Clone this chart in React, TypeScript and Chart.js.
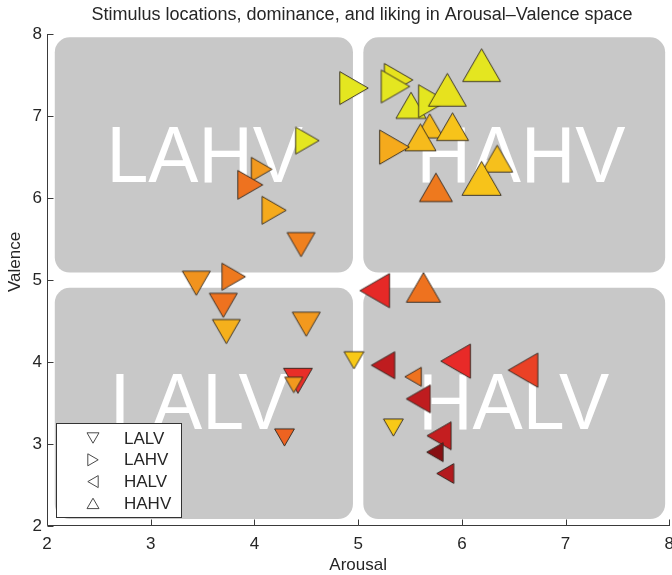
import React, { useEffect, useRef } from 'react';
import { Chart, registerables } from 'chart.js';

Chart.register(...registerables);

// ---- stimulus data (arousal / valence / dominance / liking / intended quadrant) ----
const arousal = [
  4.96, 5.39, 5.36, 5.51, 5.72, 5.86, 6.19, 5.69, 5.60, 5.91,
  5.35, 6.34, 6.19, 5.75, 4.51, 4.07, 3.96, 4.19, 4.45, 3.44,
  3.80, 3.70, 3.73, 4.50, 4.42, 4.38, 4.29, 4.96, 5.16, 5.63,
  5.24, 5.94, 6.59, 5.53, 5.58, 5.34, 5.78, 5.74, 5.84,
];
const valence = [
  7.34, 7.44, 7.36, 7.13, 7.18, 7.32, 7.62, 6.88, 6.74, 6.87,
  6.62, 6.48, 6.24, 6.13, 6.70, 6.35, 6.16, 5.85, 5.43, 4.96,
  5.04, 4.69, 4.37, 4.46, 3.77, 3.72, 3.08, 4.02, 4.87, 4.91,
  3.96, 4.01, 3.90, 3.82, 3.55, 3.20, 3.10, 2.90, 2.64,
];
const dominance = [
  7.3, 7.3, 7.3, 6.7, 7.3, 8.4, 8.4, 6.2, 6.9, 7.1,
  7.6, 6.9, 8.7, 7.3, 6.0, 5.3, 6.4, 6.2, 6.2, 6.2,
  6.0, 6.2, 6.2, 6.2, 6.4, 4.0, 4.4, 4.4, 7.6, 7.6,
  6.0, 7.6, 7.6, 4.2, 6.2, 4.4, 6.2, 4.2, 4.4,
];
const liking = [
  8.0, 7.9, 8.0, 8.0, 8.0, 7.9, 8.0, 6.9, 6.9, 7.1,
  6.6, 7.0, 7.1, 5.8, 8.0, 6.3, 5.7, 6.6, 5.9, 6.2,
  5.8, 5.7, 6.7, 6.3, 4.8, 6.3, 5.5, 7.3, 4.7, 5.7,
  4.0, 4.75, 5.05, 5.7, 4.0, 7.3, 4.1, 3.0, 3.8,
];
const quadrant = [
  'LAHV', 'LAHV', 'LAHV', 'HAHV', 'LAHV', 'HAHV', 'HAHV', 'HAHV', 'HAHV', 'HAHV',
  'LAHV', 'HAHV', 'HAHV', 'HAHV', 'LAHV', 'LAHV', 'LAHV', 'LAHV', 'LALV', 'LALV',
  'LAHV', 'LALV', 'LALV', 'LALV', 'LALV', 'LALV', 'LALV', 'LALV', 'HALV', 'HAHV',
  'HALV', 'HALV', 'HALV', 'HALV', 'HALV', 'LALV', 'HALV', 'HALV', 'HALV',
];

const legendLabels = ['LALV', 'LAHV', 'HALV', 'HAHV'];
const axisTicks = [2, 3, 4, 5, 6, 7, 8];

// ---- styling ----
const FONT = '"Liberation Sans", Arial, Helvetica, sans-serif';
const TEXT = '#262626';
const AXIS = '#3a3a3a';
const PANEL = '#c8c8c8';
const EDGE = 'rgba(45,38,30,0.9)';
const MARKER_SCALE = 4.5; // px of triangle base per dominance unit

// marker orientation per quadrant (degrees, clockwise from an upward triangle)
const ROTATION: Record<string, number> = { LALV: 180, LAHV: 90, HALV: 270, HAHV: 0 };

// liking -> colour (dark red through orange to yellow)
const LIKING_STOPS: [number, number[]][] = [
  [3.0, [135, 15, 18]],
  [3.9, [185, 26, 30]],
  [4.75, [232, 42, 40]],
  [5.25, [236, 80, 35]],
  [5.75, [238, 118, 30]],
  [6.25, [241, 150, 30]],
  [6.6, [245, 170, 28]],
  [7.0, [246, 192, 28]],
  [7.35, [248, 203, 22]],
  [8.0, [228, 230, 32]],
];

function likingColour(v: number): string {
  const s = LIKING_STOPS;
  if (v <= s[0][0]) return `rgb(${s[0][1].join(',')})`;
  for (let i = 1; i < s.length; i++) {
    if (v <= s[i][0]) {
      const t = (v - s[i - 1][0]) / (s[i][0] - s[i - 1][0]);
      const c = s[i - 1][1].map((a, k) => Math.round(a + (s[i][1][k] - a) * t));
      return `rgb(${c.join(',')})`;
    }
  }
  return `rgb(${s[s.length - 1][1].join(',')})`;
}

// upward equilateral triangle sprite, centred on its bounding box
function triangleSprite(base: number, fill: string): HTMLCanvasElement {
  const h = (base * Math.sqrt(3)) / 2;
  const pad = 1.5;
  const c = document.createElement('canvas');
  c.width = Math.ceil(base + 2 * pad);
  c.height = Math.ceil(h + 2 * pad);
  const g = c.getContext('2d')!;
  const cx = c.width / 2;
  const cy = c.height / 2;
  g.beginPath();
  g.moveTo(cx, cy - h / 2);
  g.lineTo(cx + base / 2, cy + h / 2);
  g.lineTo(cx - base / 2, cy + h / 2);
  g.closePath();
  g.fillStyle = fill;
  g.fill();
  g.lineWidth = 1;
  g.strokeStyle = EDGE;
  g.lineJoin = 'miter';
  g.stroke();
  return c;
}

function trianglePath(ctx: CanvasRenderingContext2D, x: number, y: number, base: number, rotDeg: number) {
  const h = (base * Math.sqrt(3)) / 2;
  ctx.save();
  ctx.translate(x, y);
  ctx.rotate((rotDeg * Math.PI) / 180);
  ctx.beginPath();
  ctx.moveTo(0, -h / 2);
  ctx.lineTo(base / 2, h / 2);
  ctx.lineTo(-base / 2, h / 2);
  ctx.closePath();
  ctx.restore();
}

// rounded grey quadrant panels (arousal range, valence range) and their captions
const PANELS = [
  { x: [2.075, 4.95], y: [5.09, 7.96] },
  { x: [5.05, 7.96], y: [5.09, 7.96] },
  { x: [2.075, 4.95], y: [2.085, 4.905] },
  { x: [5.05, 7.96], y: [2.085, 4.905] },
];
const CAPTIONS = [
  { text: 'LAHV', x: 3.52, y: 6.55 },
  { text: 'HAHV', x: 6.57, y: 6.55 },
  { text: 'LALV', x: 3.47, y: 3.53 },
  { text: 'HALV', x: 6.50, y: 3.53 },
];

const decorations = {
  id: 'avDecorations',
  beforeDatasetsDraw(chart: any) {
    const { ctx } = chart;
    const xs = chart.scales.x;
    const ys = chart.scales.y;
    ctx.save();
    ctx.fillStyle = PANEL;
    for (const p of PANELS) {
      const x0 = xs.getPixelForValue(p.x[0]);
      const x1 = xs.getPixelForValue(p.x[1]);
      const y0 = ys.getPixelForValue(p.y[1]);
      const y1 = ys.getPixelForValue(p.y[0]);
      ctx.beginPath();
      ctx.roundRect(x0, y0, x1 - x0, y1 - y0, 15);
      ctx.fill();
    }
    ctx.fillStyle = '#ffffff';
    ctx.font = `80px ${FONT}`;
    ctx.textAlign = 'center';
    ctx.textBaseline = 'alphabetic';
    const cap = 80 * 0.716;
    for (const c of CAPTIONS) {
      ctx.save();
      ctx.translate(xs.getPixelForValue(c.x), ys.getPixelForValue(c.y) + cap / 2);
      ctx.scale(0.94, 1);
      ctx.fillText(c.text, 0, 0);
      ctx.restore();
    }
    ctx.restore();
  },
  afterDraw(chart: any) {
    const { ctx, chartArea } = chart;
    const xs = chart.scales.x;
    const ys = chart.scales.y;
    const left = Math.round(chartArea.left) + 0.5;
    const bottom = Math.round(chartArea.bottom) - 0.5;
    ctx.save();
    // axis lines with inward ticks
    ctx.strokeStyle = AXIS;
    ctx.lineWidth = 1;
    ctx.beginPath();
    ctx.moveTo(left, Math.round(chartArea.top));
    ctx.lineTo(left, bottom);
    ctx.lineTo(Math.round(chartArea.right) + 1, bottom);
    for (const t of axisTicks) {
      const px = Math.round(xs.getPixelForValue(t)) + 0.5;
      ctx.moveTo(px, bottom);
      ctx.lineTo(px, bottom - 6);
      const py = Math.round(ys.getPixelForValue(t)) + 0.5;
      ctx.moveTo(left, py);
      ctx.lineTo(left + 6, py);
    }
    ctx.stroke();

    // title and axis titles
    ctx.fillStyle = TEXT;
    ctx.textAlign = 'center';
    ctx.textBaseline = 'middle';
    ctx.font = `18px ${FONT}`;
    ctx.fillText('Stimulus locations, dominance, and liking in Arousal\u2013Valence space', 362, 15);
    ctx.font = `17px ${FONT}`;
    ctx.fillText('Arousal', (chartArea.left + chartArea.right) / 2, 565);
    ctx.save();
    ctx.translate(15, 262);
    ctx.rotate(-Math.PI / 2);
    ctx.fillText('Valence', 0, 0);
    ctx.restore();

    // legend
    const bx = 56.5, by = 423.5, bw = 125, bh = 94;
    ctx.fillStyle = '#ffffff';
    ctx.fillRect(bx, by, bw, bh);
    ctx.strokeStyle = '#333333';
    ctx.strokeRect(bx, by, bw, bh);
    ctx.font = `17px ${FONT}`;
    ctx.textAlign = 'left';
    legendLabels.forEach((lab, i) => {
      const ry = 438 + i * 21.8;
      trianglePath(ctx, 93, ry, 12, ROTATION[lab]);
      ctx.strokeStyle = '#4a4a4a';
      ctx.lineWidth = 1;
      ctx.stroke();
      ctx.fillStyle = TEXT;
      ctx.fillText(lab, 124, ry + 1);
    });
    ctx.restore();
  },
};

export default function App() {
  const canvasRef = useRef<HTMLCanvasElement | null>(null);

  useEffect(() => {
    const canvas = canvasRef.current;
    if (!canvas) return;

    const points = arousal.map((a, i) => ({ x: a, y: valence[i] }));
    const sprites = dominance.map((d, i) => triangleSprite(d * MARKER_SCALE, likingColour(liking[i])));
    const rotations = quadrant.map((q) => ROTATION[q]);

    const chart = new Chart(canvas, {
      type: 'scatter',
      data: {
        datasets: [
          {
            label: 'stimuli',
            data: points,
            pointStyle: sprites as any,
            pointRotation: rotations,
            pointRadius: dominance.map((d) => (d * MARKER_SCALE) / 2),
            showLine: false,
          } as any,
        ],
      },
      plugins: [decorations],
      options: {
        responsive: false,
        animation: false,
        devicePixelRatio: 1,
        layout: { padding: { left: 0, right: 30.7, top: 34, bottom: 0 } },
        plugins: {
          legend: { display: false },
          tooltip: { enabled: false },
          title: { display: false },
        },
        events: [],
        scales: {
          x: {
            type: 'linear',
            min: 2,
            max: 8,
            grid: { display: false, drawTicks: false },
            border: { display: false },
            ticks: {
              stepSize: 1,
              padding: 8,
              color: TEXT,
              font: { family: FONT, size: 17 },
              maxRotation: 0,
            },
            afterFit: (s: any) => {
              s.height = 49;
            },
          },
          y: {
            type: 'linear',
            min: 2,
            max: 8,
            grid: { display: false, drawTicks: false },
            border: { display: false },
            ticks: {
              stepSize: 1,
              padding: 5,
              color: TEXT,
              font: { family: FONT, size: 17 },
            },
            afterFit: (s: any) => {
              s.width = 47;
            },
          },
        },
      } as any,
    });

    return () => chart.destroy();
  }, []);

  return (
    <div style={{ position: 'absolute', left: 0, top: 0, width: 672, height: 575, overflow: 'hidden', background: '#fff' }}>
      <canvas ref={canvasRef} width={700} height={575} style={{ display: 'block' }} />
    </div>
  );
}
